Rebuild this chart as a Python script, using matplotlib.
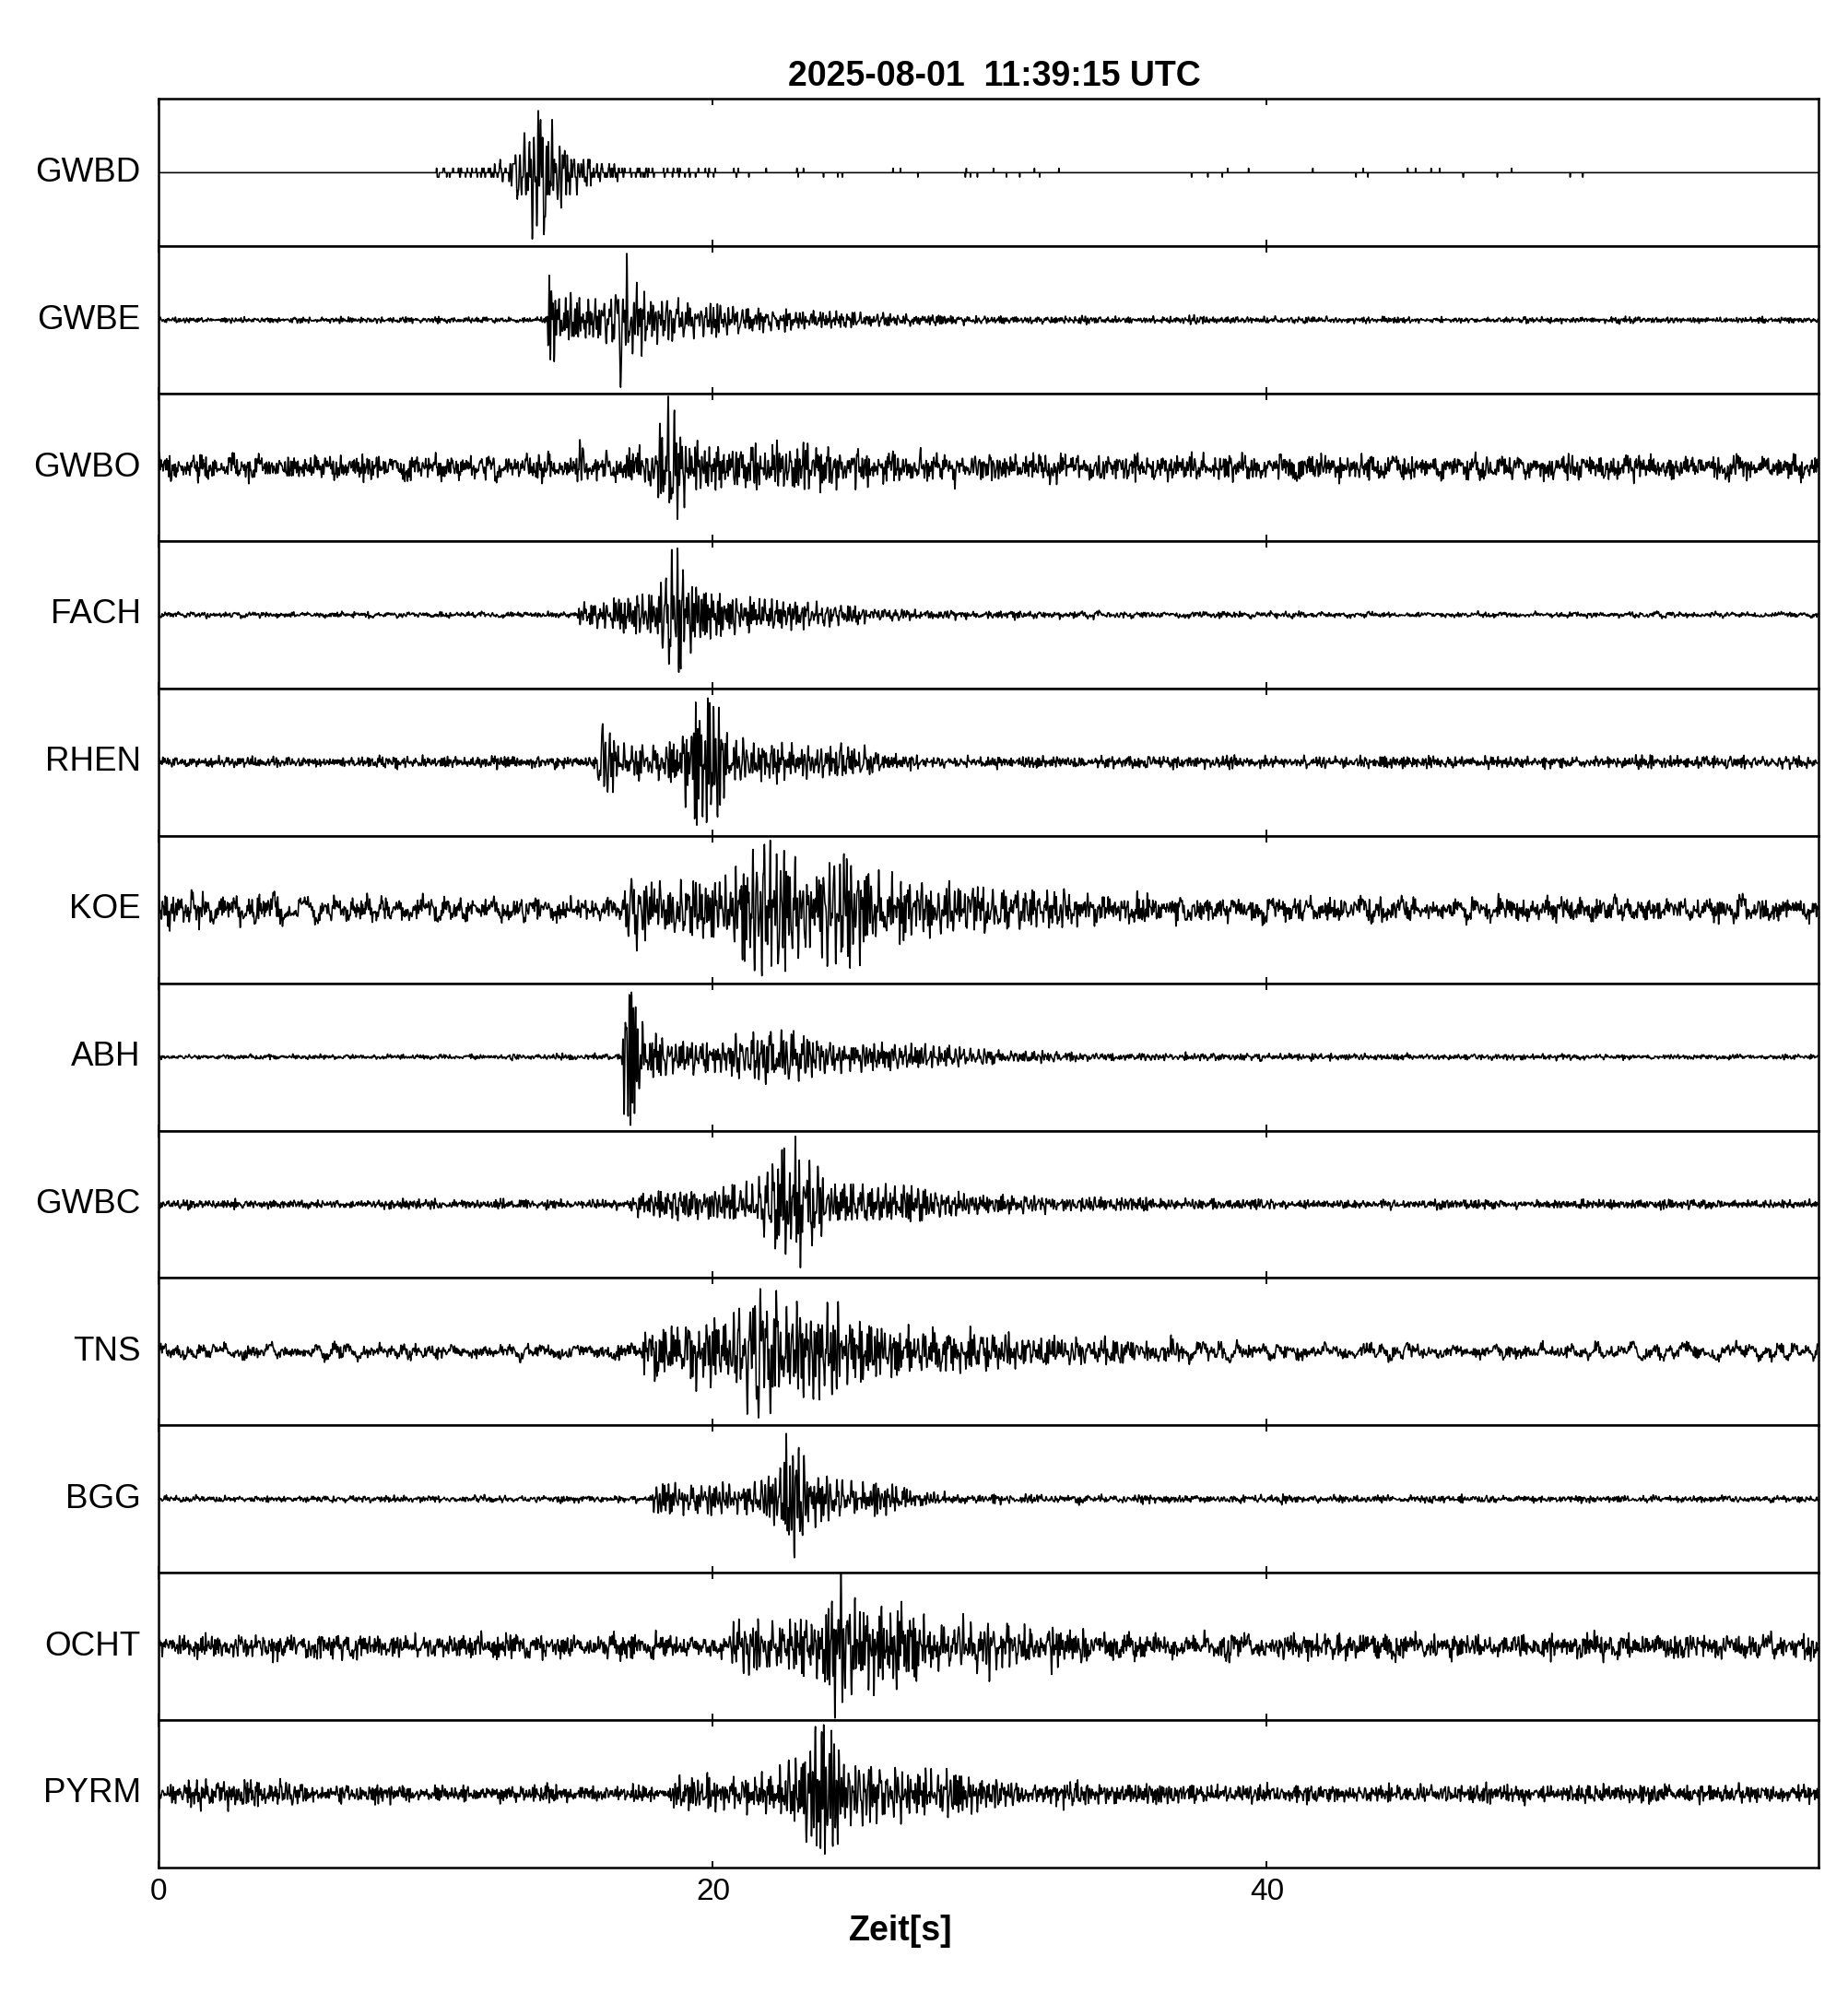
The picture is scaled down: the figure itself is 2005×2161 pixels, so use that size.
import numpy as np
import matplotlib.pyplot as plt
from numpy.lib.stride_tricks import sliding_window_view

plt.rcParams['font.family'] = ['Liberation Sans', 'DejaVu Sans']

title = '2025-08-01  11:39:15 UTC'
stations = ['GWBD', 'GWBE', 'GWBO', 'FACH', 'RHEN', 'KOE',
            'ABH', 'GWBC', 'TNS', 'BGG', 'OCHT', 'PYRM']
t_end = 59.9
fs = 100.0

# background noise envelope (fraction of half trace height)
bg_times = [[0, 9.9, 10, 52, 53, 60], [0, 60], [0, 60], [0, 60], [0, 60], [0, 4, 6, 60],
            [0, 60], [0, 60], [0, 60], [0, 60], [0, 60], [0, 4.3, 5, 60]]
bg_amps = [[0, 0, 0.037, 0.037, 0, 0], [0.05, 0.05], [0.22, 0.22], [0.05, 0.05],
           [0.1, 0.1], [0.3, 0.28, 0.22, 0.22], [0.04, 0.04], [0.08, 0.08],
           [0.15, 0.15], [0.06, 0.06], [0.22, 0.22], [0.25, 0.23, 0.15, 0.15]]
# share of long-period content in the background
bg_lowfreq = [0.0, 0.2, 0.35, 0.4, 0.2, 0.45, 0.3, 0.2, 0.55, 0.3, 0.35, 0.2]

# event envelope: key times [s] and peak amplitudes
ev_times = [
    [0, 9.9, 10, 12.0, 12.3, 12.6, 13.2, 13.5, 14.0, 14.4, 15.0, 16.0, 17.0, 20, 24, 60],
    [0, 14.0, 14.1, 14.5, 15.5, 16.4, 16.6, 16.9, 17.3, 17.8, 18.5, 20, 22, 25, 30, 60],
    [0, 15.0, 15.2, 15.5, 17.5, 18.0, 18.2, 18.6, 19.0, 19.5, 22, 24.6, 26, 60],
    [0, 15.1, 15.2, 16.0, 17.0, 18.0, 18.5, 18.9, 19.3, 20, 22, 24.5, 26, 30, 60],
    [0, 15.8, 15.9, 16.3, 17.0, 18.5, 19.2, 19.6, 20.2, 20.6, 22, 25, 26.5, 28, 60],
    [0, 16.7, 16.8, 18.0, 20.5, 21.5, 22.6, 23.5, 24.9, 25.8, 27, 30, 31, 34, 38, 60],
    [0, 12.5, 12.7, 13.0, 16.7, 16.8, 17.1, 17.5, 18.5, 20.5, 21.0, 22.5, 23.3, 24, 27, 30, 34, 60],
    [0, 13.8, 14.0, 14.3, 17.0, 17.3, 20, 21.5, 22.3, 23.0, 23.5, 24.2, 25, 27.2, 28, 33, 36, 60],
    [0, 17.3, 17.5, 19, 19.2, 20.5, 21.3, 22.0, 22.5, 23.5, 24.4, 25, 27, 30, 35, 40, 60],
    [0, 17.8, 17.9, 18.5, 21, 22.3, 22.7, 23.1, 23.6, 24.5, 26.5, 27.5, 30, 60],
    [0, 20.5, 20.7, 22, 23.5, 24.1, 24.4, 24.8, 25.3, 26.0, 26.8, 27.5, 30, 33, 35, 60],
    [0, 18.4, 18.6, 21, 22.5, 23.3, 23.7, 24.3, 24.8, 26, 28, 30, 32, 60],
]
ev_amps = [
    [0, 0, 0.06, 0.05, 0.16, 0.08, 0.55, 0.9, 0.85, 0.55, 0.25, 0.12, 0.06, 0.03, 0, 0],
    [0, 0, 0.72, 0.4, 0.28, 0.32, 0.9, 0.88, 0.5, 0.32, 0.28, 0.22, 0.14, 0.09, 0.04, 0],
    [0, 0, 0.25, 0.08, 0.12, 0.4, 0.88, 0.85, 0.45, 0.3, 0.25, 0.2, 0.08, 0],
    [0, 0, 0.17, 0.17, 0.25, 0.3, 0.9, 0.85, 0.4, 0.3, 0.22, 0.15, 0.08, 0.03, 0],
    [0, 0, 0.57, 0.4, 0.22, 0.25, 0.72, 0.97, 0.75, 0.35, 0.25, 0.22, 0.12, 0.02, 0],
    [0, 0, 0.42, 0.35, 0.42, 0.88, 0.9, 0.55, 0.78, 0.45, 0.35, 0.28, 0.3, 0.12, 0.04, 0],
    [0, 0, 0.07, 0.02, 0.03, 0.85, 0.95, 0.4, 0.22, 0.2, 0.32, 0.38, 0.32, 0.22, 0.17, 0.1, 0.04, 0.01],
    [0, 0, 0.12, 0.0, 0.0, 0.18, 0.18, 0.3, 0.65, 0.95, 0.65, 0.3, 0.24, 0.24, 0.15, 0.1, 0.03, 0],
    [0, 0, 0.3, 0.3, 0.5, 0.35, 0.8, 0.92, 0.65, 0.55, 0.8, 0.4, 0.28, 0.22, 0.12, 0.04, 0],
    [0, 0, 0.28, 0.2, 0.2, 0.35, 0.93, 0.75, 0.4, 0.25, 0.2, 0.08, 0.03, 0],
    [0, 0, 0.32, 0.28, 0.32, 0.5, 0.9, 0.9, 0.45, 0.55, 0.5, 0.32, 0.26, 0.15, 0, 0],
    [0, 0, 0.22, 0.22, 0.3, 0.55, 0.94, 0.9, 0.42, 0.32, 0.28, 0.2, 0.08, 0],
]
# digitiser step (only the quiet GWBD trace shows it)
quant = [0.06, 0, 0, 0, 0, 0, 0, 0, 0, 0, 0, 0]

t = np.arange(0, t_end, 1 / fs)
freqs = np.fft.rfftfreq(len(t), 1 / fs)


def band(rng, lo, hi):
    spec = np.fft.rfft(rng.standard_normal(len(t)))
    spec[(freqs < lo) | (freqs > hi)] = 0
    x = np.fft.irfft(spec, len(t))
    return x / x.std()


def running_max(x, width):
    w = int(width * fs) | 1
    pad = np.pad(np.abs(x), w // 2, mode='edge')
    return sliding_window_view(pad, w).max(axis=1)


fig, axes = plt.subplots(len(stations), 1, sharex=True, figsize=(20.05, 21.61), dpi=100)
fig.subplots_adjust(left=0.086, right=0.9838, top=0.9503, bottom=0.0625, hspace=0)

for i, (ax, name) in enumerate(zip(axes, stations)):
    rng = np.random.default_rng(100 + i)
    lf = bg_lowfreq[i]
    mix = lf * band(rng, 0.4, 2.5) + (1 - lf) * band(rng, 2.0, 20.0)
    mix = mix / mix.std()
    carrier = band(rng, 2.0, 16.0)
    carrier = carrier / running_max(carrier, 0.35)
    bg = np.interp(t, bg_times[i], bg_amps[i]) * np.clip(mix / 3.0, -1, 1)
    ev = np.interp(t, ev_times[i], ev_amps[i]) * carrier
    y = bg + ev
    if quant[i]:
        y = np.round(y / quant[i]) * quant[i]

    ax.plot(t, y, color='k', lw=1.15)
    ax.set_ylim(-1, 1)
    ax.set_xlim(0, t_end)
    ax.set_yticks([])
    ax.set_xticks([0, 20, 40])
    ax.tick_params(axis='x', direction='in', top=True, length=5, width=1.3,
                   labelsize=24, pad=8)
    for sp in ax.spines.values():
        sp.set_linewidth(1.8)
    ax.text(-0.011, 0.5, name, transform=ax.transAxes, ha='right', va='center',
            fontsize=26.5)

fig.text(1079 / 2005, 1 - 83 / 2161, title, ha='center', va='center',
         fontsize=27, fontweight='bold')
fig.text(977 / 2005, 1 - 2095 / 2161, 'Zeit[s]', ha='center', va='center',
         fontsize=27, fontweight='bold')

fig.savefig('out.png', dpi=100)
